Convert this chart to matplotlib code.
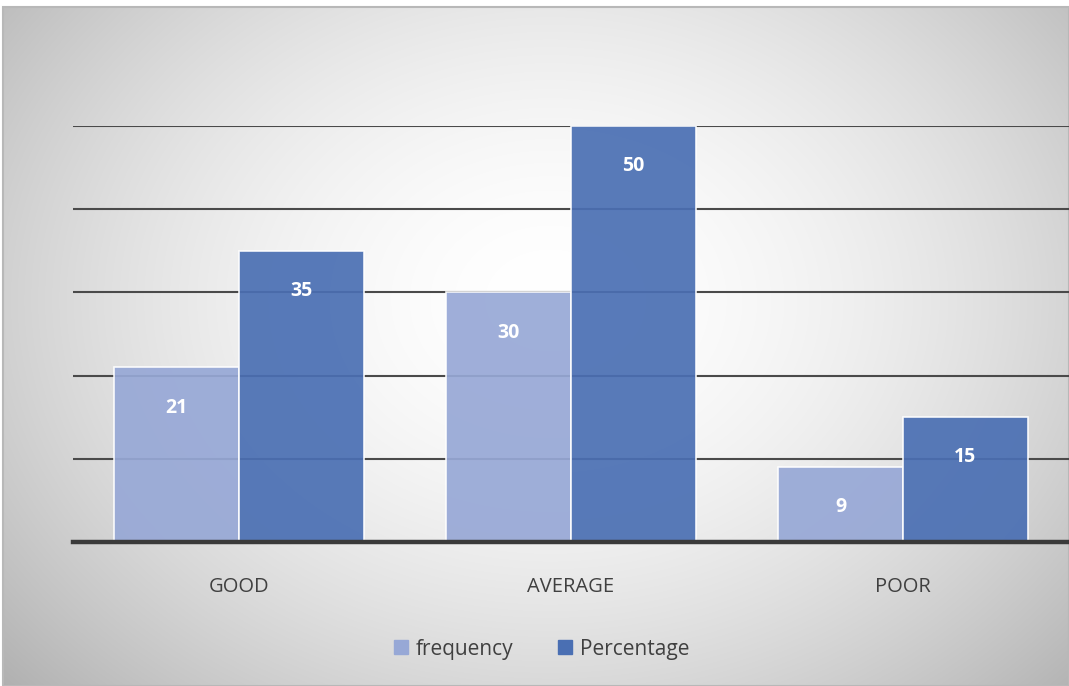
import numpy as np
import matplotlib
matplotlib.use("Agg")
import matplotlib.pyplot as plt
from matplotlib.lines import Line2D
from matplotlib.patches import Rectangle

categories = ["GOOD", "AVERAGE", "POOR"]
frequency = [21, 30, 9]
percentage = [35, 50, 15]
series_names = ["frequency", "Percentage"]
yticks = [10, 20, 30, 40, 50]

light = "#97A8D6"
dark = "#4A6FB3"
text_col = "#404040"

plt.rcParams["font.family"] = ["Open Sans", "DejaVu Sans"]

W, H = 1069, 686
fig = plt.figure(figsize=(W / 100, H / 100), dpi=100)

# background: radial gray gradient inside a thin frame
bg = fig.add_axes([0, 0, 1, 1], zorder=-10)
yy, xx = np.mgrid[0:H, 0:W]
r = np.sqrt(((xx - 550) / 640.0) ** 2 + ((yy - 300) / 500.0) ** 2)
shade = 1.0 - 0.24 * np.clip(r, 0, 1.15) ** 1.8
img = np.dstack([shade] * 3)
img[:7, :, :] = 1.0
img[:, :3, :] = 1.0
bg.imshow(img, extent=[0, W, H, 0], aspect="auto")
bg.add_patch(Rectangle((3, 7), W - 3, H - 7, fill=False, ec="#b8b8b8", lw=1.5))
bg.set_xlim(0, W)
bg.set_ylim(H, 0)
bg.axis("off")

ax = fig.add_axes([73 / W, 1 - 542 / H, (W - 73) / W, (542 - 126) / H])
ax.patch.set_alpha(0)

x = np.arange(len(categories))
bw = 0.376
for yv in yticks:
    ax.axhline(yv, color="#4a4a4a", lw=1.5, zorder=1)

b1 = ax.bar(x - bw / 2, frequency, bw, color=light, alpha=0.92,
            edgecolor="white", linewidth=1.2, zorder=2)
b2 = ax.bar(x + bw / 2, percentage, bw, color=dark, alpha=0.92,
            edgecolor="white", linewidth=1.2, zorder=2)

for bars, vals in ((b1, frequency), (b2, percentage)):
    for b, v in zip(bars, vals):
        ax.annotate(str(v), (b.get_x() + b.get_width() / 2, v),
                    xytext=(0, -29), textcoords="offset points",
                    ha="center", va="center", color="white",
                    fontsize=14, fontweight="bold", zorder=4)

ax.axhline(0, color="#3a3a3a", lw=3.2, zorder=3, clip_on=False)
ax.set_xlim(-0.5, 2.5)
ax.set_ylim(0, 50)
ax.set_xticks(x)
ax.set_xticklabels(categories, fontsize=14.5, color=text_col)
ax.tick_params(axis="x", length=0, pad=25)
ax.set_yticks([])
for s in ax.spines.values():
    s.set_visible(False)

handles = [Line2D([], [], marker="s", ls="none", ms=10, color=light),
           Line2D([], [], marker="s", ls="none", ms=10, color=dark)]
fig.legend(handles, series_names, loc="center", bbox_to_anchor=(0.505, 1 - 649 / H),
           ncol=2, frameon=False, fontsize=15, labelcolor=text_col,
           handletextpad=0.2, columnspacing=2.0, handlelength=1.0)

fig.savefig("out.png", dpi=100)
